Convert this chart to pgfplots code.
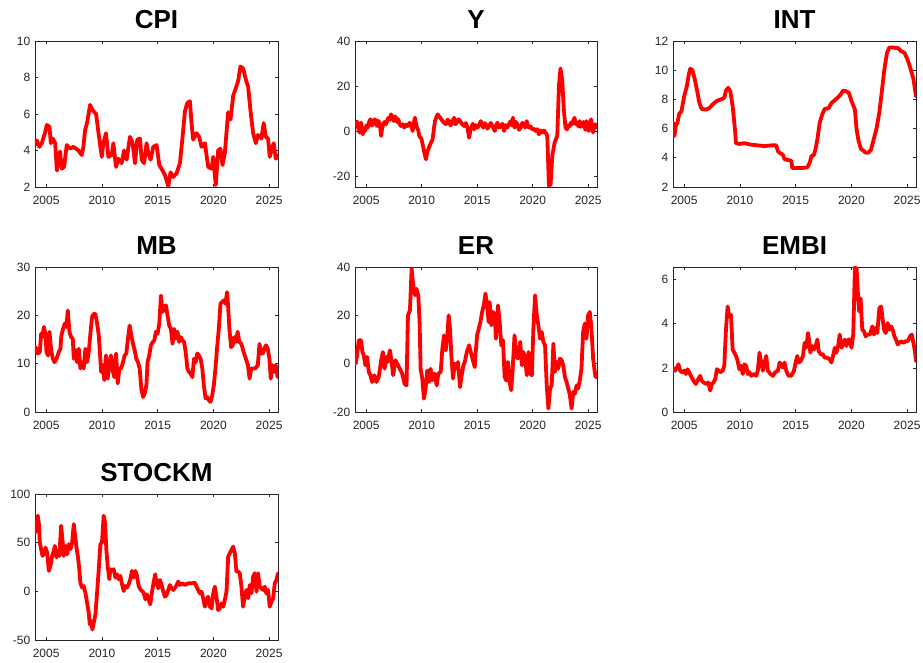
\documentclass[border=0pt]{standalone}
\usepackage{fontspec}
\setmainfont{Liberation Sans}
\usepackage{pgfplots}
\pgfplotsset{compat=1.18}
\definecolor{axgray}{RGB}{38,38,38}

\pgfplotsset{
  panel/.style={
    scale only axis, width=243pt, height=146pt,
    xmin=2004, xmax=2025.8,
    xtick={2005,2010,2015,2020,2025},
    tick align=inside, xtick pos=both, ytick pos=both,
    major tick length=3pt, minor tick num=0,
    axis line style={draw=axgray, line width=0.6pt},
    every tick/.style={draw=axgray, line width=0.6pt},
    tick label style={font=\fontsize{12}{14}\selectfont, text=axgray},
    xticklabel style={anchor=base, yshift=-18pt},
    yticklabel style={anchor=east, inner sep=0pt, xshift=-4.5pt},
    /pgf/number format/1000 sep={},
    /pgf/number format/assume math mode=true,
    scaled ticks=false,
    title style={font=\fontsize{26}{28}\selectfont\bfseries, text=black,
      at={(0.5,1)}, anchor=base, yshift=6pt},
  },
  series/.style={red, line width=3.8pt, line join=round, line cap=round, mark=none},
}

\begin{document}
\begin{tikzpicture}[x=1pt,y=1pt]
\useasboundingbox (0,0) rectangle (923,663);

% ---------------- CPI ----------------
\begin{axis}[panel, at={(35pt,622pt)}, anchor=north west,
  title={CPI}, ymin=2, ymax=10, ytick={2,4,6,8,10}]
\addplot[series] coordinates {
(2004.01,4.3)(2004.16,4.55)(2004.40,4.2)(2004.61,4.4)(2004.91,5.0)(2005.06,5.4)
(2005.30,5.3)(2005.42,4.4)(2005.60,4.65)(2005.81,4.4)(2005.96,2.9)(2006.10,3.5)
(2006.25,3.95)(2006.40,3.0)(2006.61,3.1)(2006.85,4.3)(2007.15,4.1)(2007.45,4.2)
(2007.90,4.0)(2008.19,3.75)(2008.34,4.2)(2008.49,5.1)(2008.70,5.6)(2008.94,6.5)
(2009.18,6.2)(2009.48,6.0)(2009.69,5.0)(2009.99,3.65)(2010.13,4.4)(2010.37,4.95)
(2010.58,3.65)(2010.88,3.75)(2011.03,4.4)(2011.27,3.1)(2011.48,3.55)(2011.78,3.3)
(2011.99,4.0)(2012.22,3.5)(2012.52,4.75)(2012.76,4.4)(2012.97,3.3)(2013.18,4.6)
(2013.42,4.65)(2013.57,3.5)(2013.78,3.3)(2014.01,4.4)(2014.16,3.85)(2014.37,3.5)
(2014.61,4.2)(2014.91,4.3)(2015.15,3.2)(2015.45,2.9)(2015.66,2.65)(2015.96,2.05)
(2016.16,2.8)(2016.40,2.55)(2016.70,2.75)(2017.00,3.3)(2017.24,4.75)(2017.45,6.15)
(2017.66,6.6)(2017.90,6.7)(2018.04,5.5)(2018.19,4.6)(2018.49,4.95)(2018.73,4.75)
(2018.94,4.2)(2019.24,4.4)(2019.54,3.1)(2019.84,3.0)(2019.99,3.65)(2020.22,2.1)
(2020.43,4.0)(2020.64,4.1)(2020.82,3.2)(2021.03,3.85)(2021.33,6.1)(2021.54,5.7)
(2021.78,7.0)(2022.01,7.4)(2022.22,7.8)(2022.43,8.6)(2022.67,8.5)(2022.91,7.9)
(2023.12,7.5)(2023.33,6.2)(2023.57,4.95)(2023.81,4.4)(2024.01,4.85)(2024.31,4.65)
(2024.52,5.5)(2024.70,4.75)(2024.91,4.65)(2025.06,3.65)(2025.30,4.2)(2025.42,4.4)
(2025.60,3.55)(2025.80,3.75)
};
\end{axis}

% ---------------- Y ----------------
\begin{axis}[panel, width=242pt, at={(355pt,622pt)}, anchor=north west,
  title={Y}, ymin=-24.9, ymax=40, ytick={-20,0,20,40}]
\addplot[series] coordinates {
(2004.02,2.5)(2004.10,3)(2004.18,4.2)(2004.25,2.2)(2004.33,0.5)(2004.40,-0.7)
(2004.48,1.5)(2004.55,3.7)(2004.62,0.8)(2004.70,-1.5)(2004.80,1.2)(2004.91,0)
(2005.03,2.5)(2005.15,1.5)(2005.27,4.0)(2005.39,5.2)(2005.50,2.4)(2005.60,3)
(2005.70,4.8)(2005.81,5.2)(2005.90,3.0)(2005.99,2.2)(2006.10,4.5)(2006.20,3.7)
(2006.28,1.0)(2006.35,-2.2)(2006.42,0.5)(2006.50,2.2)(2006.65,4.0)(2006.80,3)
(2006.90,4.5)(2007.01,5.9)(2007.13,5.0)(2007.25,7.4)(2007.37,6.0)(2007.49,4.4)
(2007.59,6.5)(2007.69,5.9)(2007.80,4.0)(2007.90,5.2)(2008.02,3.0)(2008.14,2.2)
(2008.30,3.0)(2008.44,1.5)(2008.60,2.8)(2008.74,2.2)(2008.90,3.6)(2009.04,3)
(2009.12,1.5)(2009.19,0)(2009.30,3.5)(2009.40,5.9)(2009.50,3.0)(2009.58,1.5)
(2009.69,0.5)(2009.79,-2.2)(2010.00,-3.7)(2010.18,-8.1)
(2010.39,-12.6)(2010.54,-8.9)(2010.78,-5.9)(2010.99,-3.7)(2011.20,4.4)(2011.44,7.4)
(2011.68,5.9)(2011.89,4.4)(2012.04,3.5)(2012.19,3)(2012.34,5.0)(2012.49,4.4)
(2012.59,2.5)(2012.69,3)(2012.81,4.6)(2012.93,5.9)(2013.05,3.0)(2013.17,3.7)
(2013.32,5.2)(2013.47,4.4)(2013.65,3.0)(2013.83,2.2)(2013.98,3.5)(2014.13,1.5)
(2014.28,-3)(2014.40,0.5)(2014.49,1.5)(2014.60,3.2)(2014.73,0.7)(2014.88,2.6)
(2015.03,1.5)(2015.18,2.6)(2015.33,4.4)(2015.45,2.5)(2015.57,1.5)(2015.68,3.5)
(2015.78,3)(2015.93,1.0)(2016.08,2.2)(2016.23,3.6)(2016.38,2.2)(2016.49,1.0)
(2016.59,0)(2016.71,2.5)(2016.83,3.7)(2016.98,1.5)(2017.13,2.2)(2017.28,3.2)
(2017.43,0)(2017.58,2.6)(2017.72,1.5)(2017.87,3.0)(2018.02,4.4)(2018.12,2.5)
(2018.23,5.9)(2018.38,1.5)(2018.50,4.0)(2018.62,3)(2018.77,0.5)(2018.92,1.5)
(2019.07,3.6)(2019.22,3)(2019.34,1.5)(2019.46,4.4)(2019.57,2.5)(2019.67,1.5)
(2019.82,2.0)(2019.97,0.7)(2020.12,1.0)(2020.27,0)(2020.42,0.8)(2020.57,-1.5)
(2020.72,0.2)(2020.87,-0.7)(2021.02,0.2)(2021.17,-0.7)(2021.32,-2.2)(2021.47,-24.4)
(2021.62,-23.7)(2021.77,-11.1)(2021.98,-5.2)
(2022.22,-2.2)(2022.37,20)(2022.51,27.8)(2022.66,23)(2022.81,9.6)(2022.96,1.5)
(2023.11,0.7)(2023.23,2.5)(2023.35,2.2)(2023.46,3.8)(2023.56,3)(2023.67,4.5)
(2023.77,5.9)(2023.89,3.0)(2024.01,3.7)(2024.13,2.0)(2024.25,4.4)(2024.35,1.8)
(2024.46,3)(2024.57,4.0)(2024.67,2.2)(2024.76,0.5)(2024.85,4.4)(2024.96,1.5)
(2025.06,0)(2025.16,3.0)(2025.27,5.2)(2025.36,2.0)(2025.45,-0.7)(2025.56,2.0)
(2025.66,3)(2025.80,1.5)
};
\end{axis}

% ---------------- INT ----------------
\begin{axis}[panel, at={(673pt,622pt)}, anchor=north west,
  title={INT}, ymin=2, ymax=12, ytick={2,4,6,8,10,12}]
\addplot[series] coordinates {
(2004.04,6.4)(2004.13,5.5)(2004.25,6.2)(2004.40,6.4)(2004.55,7.0)(2004.76,7.2)
(2005.00,8.2)(2005.24,8.9)(2005.39,9.6)(2005.54,10.1)(2005.75,10.0)(2005.96,9.35)
(2006.20,8.45)(2006.35,7.8)(2006.56,7.35)(2006.95,7.3)(2007.25,7.4)(2007.55,7.65)
(2007.94,7.9)(2008.30,8.0)(2008.60,8.1)(2008.75,8.6)(2008.96,8.8)(2009.14,8.55)
(2009.35,7.55)(2009.56,5.95)(2009.65,5.0)(2009.95,4.95)(2010.41,5.0)(2011.01,4.9)
(2011.61,4.85)(2012.21,4.8)(2012.81,4.85)(2013.26,4.85)(2013.41,4.45)(2013.56,4.35)
(2013.86,4.2)(2014.01,3.9)(2014.31,3.85)(2014.61,3.8)(2014.70,3.3)(2015.06,3.3)
(2015.66,3.3)(2016.05,3.35)(2016.26,3.65)(2016.41,4.1)(2016.65,4.2)(2016.77,4.55)
(2016.95,5.25)(2017.16,6.4)(2017.40,7.0)(2017.61,7.35)(2017.97,7.4)(2018.21,7.75)
(2018.45,7.9)(2018.75,8.1)(2019.05,8.35)(2019.26,8.6)(2019.56,8.55)(2019.77,8.45)
(2020.01,7.9)(2020.32,7.3)(2020.47,5.95)(2020.62,5.25)(2020.86,4.6)(2021.07,4.5)
(2021.28,4.35)(2021.52,4.35)(2021.76,4.55)(2021.97,5.15)(2022.27,6.05)(2022.51,7.1)
(2022.72,8.45)(2022.96,10.05)(2023.20,11.2)(2023.41,11.55)(2023.77,11.55)(2024.22,11.5)
(2024.46,11.3)(2024.76,11.2)(2025.03,10.75)(2025.27,10.2)(2025.57,9.4)(2025.80,8.2)
};
\end{axis}

% ---------------- MB ----------------
\begin{axis}[panel, height=145pt, at={(35pt,396pt)}, anchor=north west,
  title={MB}, ymin=0, ymax=30, ytick={0,10,20,30}]
\addplot[series] coordinates {
(2004.04,13.5)(2004.10,13.1)(2004.25,12.1)(2004.43,12.4)(2004.55,16.2)(2004.67,15.5)
(2004.79,17.6)(2004.94,16.2)(2005.03,12.4)(2005.18,11.7)(2005.30,16.6)(2005.45,12.8)
(2005.60,11.0)(2005.75,10.3)(2005.93,11.0)(2006.13,12.4)(2006.28,13.1)(2006.37,15.9)
(2006.52,17.2)(2006.67,18.3)(2006.82,17.6)(2006.94,21.0)(2007.09,16.6)(2007.24,15.5)
(2007.39,15.2)(2007.48,11.0)(2007.63,12.8)(2007.78,10.3)(2007.93,13.1)(2008.07,9.0)
(2008.22,10.3)(2008.37,9.0)(2008.52,13.1)(2008.67,10.3)(2008.82,12.4)(2008.97,16.2)
(2009.12,19.7)(2009.27,20.3)(2009.42,20.3)(2009.57,18.3)(2009.72,15.9)(2009.81,12.8)
(2009.93,8.3)(2010.07,9.7)(2010.22,6.6)(2010.37,11.7)(2010.52,6.9)(2010.67,9.7)
(2010.82,11.7)(2010.97,8.6)(2011.12,7.2)(2011.27,12.1)(2011.42,5.9)(2011.57,9.0)
(2011.72,9.0)(2011.90,10.3)(2012.04,11.7)(2012.19,12.1)(2012.34,15.2)(2012.49,17.9)
(2012.64,15.9)(2012.79,14.1)(2012.94,12.8)(2013.09,11.0)(2013.24,10.3)(2013.39,9.0)
(2013.54,4.8)(2013.69,3.1)(2013.84,3.8)(2013.99,5.5)(2014.10,10.3)(2014.25,11.7)
(2014.40,13.8)(2014.58,14.5)(2014.70,14.8)(2014.85,16.6)(2015.00,16.2)(2015.15,18.3)
(2015.30,24.1)(2015.45,20.7)(2015.59,21.4)(2015.74,22.1)(2015.89,20.0)(2016.04,17.9)
(2016.19,17.2)(2016.34,14.1)(2016.48,17.2)(2016.63,15.2)(2016.78,16.6)(2016.93,14.5)
(2017.08,15.5)(2017.23,14.8)(2017.37,14.5)(2017.52,12.4)(2017.67,9.0)(2017.82,8.3)
(2017.97,7.9)(2018.12,7.2)(2018.26,11.0)(2018.41,10.3)(2018.56,12.1)(2018.71,11.7)
(2018.86,11.0)(2019.01,9.0)(2019.15,5.5)(2019.30,2.8)(2019.45,3.1)(2019.60,2.4)
(2019.75,2.1)(2019.90,3.4)(2020.04,5.5)(2020.19,9.0)(2020.34,13.4)(2020.49,17.2)
(2020.64,22.4)(2020.79,22.8)(2020.93,23.1)(2021.08,22.4)(2021.23,24.8)(2021.32,22.1)
(2021.44,17.2)(2021.59,13.4)(2021.74,13.8)(2021.88,15.5)(2022.03,14.5)(2022.18,16.6)
(2022.33,14.5)(2022.51,14.1)(2022.72,12.4)(2022.92,11.0)(2023.10,9.7)(2023.25,6.9)
(2023.40,9.0)(2023.55,9.0)(2023.75,9.0)(2023.99,9.7)(2024.14,14.1)(2024.29,12.1)
(2024.44,12.1)(2024.58,13.1)(2024.73,13.8)(2024.88,13.1)(2025.03,11.0)(2025.15,6.9)
(2025.30,9.7)(2025.45,8.3)(2025.59,9.7)(2025.77,7.2)
};
\end{axis}

% ---------------- ER ----------------
\begin{axis}[panel, width=242pt, height=145pt, at={(355pt,396pt)}, anchor=north west,
  title={ER}, ymin=-20, ymax=40, ytick={-20,0,20,40}]
\addplot[series] coordinates {
(2004.04,0)(2004.19,3.4)(2004.34,9.7)(2004.55,9.7)(2004.67,4.8)(2004.79,3.4)
(2004.94,-0.7)(2005.09,2.8)(2005.24,-3.4)(2005.39,-4.8)(2005.54,-7.6)(2005.75,-4.8)
(2005.93,-7.6)(2006.14,-5.5)(2006.36,1.4)(2006.51,4.8)(2006.66,-2.1)(2006.84,2.8)
(2006.96,0.7)(2007.14,5.5)(2007.26,2.1)(2007.44,-4.8)(2007.65,1.4)(2007.80,0)
(2008.04,-2.1)(2008.25,-4.1)(2008.46,-8.3)(2008.64,-9.0)(2008.77,20)(2008.95,22.1)
(2009.10,39.3)(2009.25,32.4)(2009.40,28.3)(2009.52,31.0)(2009.70,28.3)(2009.82,17.2)
(2009.91,-2.1)(2010.06,-6.2)(2010.21,-14.5)(2010.36,-10.3)(2010.51,-2.8)(2010.66,-7.6)
(2010.81,-2.1)(2010.96,-6.9)(2011.17,-4.1)(2011.36,-9.0)(2011.51,-4.1)(2011.72,-3.4)
(2011.87,6.2)(2012.02,11.7)(2012.17,5.5)(2012.32,11.7)(2012.44,20.0)(2012.56,14.5)
(2012.68,3.4)(2012.83,-6.2)(2012.98,0)(2013.16,-2.1)(2013.28,0.7)(2013.46,-9.7)
(2013.58,-5.5)(2013.77,-0.7)(2013.89,0.7)(2014.07,4.8)(2014.28,7.6)(2014.43,4.8)
(2014.58,2.1)(2014.79,-1.4)(2014.85,3.4)(2015.00,11.7)(2015.15,14.5)(2015.30,17.2)
(2015.45,21.4)(2015.60,24.1)(2015.75,29.0)(2015.90,24.1)(2016.04,17.2)(2016.13,25.5)
(2016.28,15.9)(2016.43,21.4)(2016.58,20.0)(2016.70,10.3)(2016.88,24.1)(2017.03,17.2)
(2017.18,7.6)(2017.33,9.7)(2017.48,-5.5)(2017.63,-7.0)(2017.78,0.7)(2017.93,-7.6)
(2018.07,-11.0)(2018.19,-3.4)(2018.37,11.7)(2018.52,3.4)(2018.67,2.1)(2018.88,9.0)
(2019.03,-0.7)(2019.18,4.8)(2019.33,2.1)(2019.48,-4.8)(2019.63,4.8)(2019.78,-4.1)
(2019.93,-4.8)(2020.07,14.5)(2020.22,28.3)(2020.37,20.0)(2020.52,15.9)(2020.67,10.3)
(2020.82,13.1)(2020.97,9.0)(2021.12,7.6)(2021.27,-9.0)(2021.42,-18.6)(2021.57,-10.3)
(2021.72,-9.0)(2021.87,8.3)(2022.01,-3.4)(2022.16,0.7)(2022.31,-2.1)(2022.46,2.1)
(2022.61,1.4)(2022.76,-0.7)(2022.91,-5.5)(2023.06,-7.6)(2023.21,-10.3)(2023.36,-13.1)
(2023.51,-18.6)(2023.66,-11.7)(2023.81,-12.4)(2023.96,-9.0)(2024.10,-10.3)(2024.25,-6.9)
(2024.40,-2.1)(2024.55,13.1)(2024.70,16.6)(2024.85,10.3)(2025.00,20.0)(2025.15,21.4)
(2025.30,14.5)(2025.45,2.1)(2025.66,-5.5)(2025.80,-5.5)
};
\end{axis}

% ---------------- EMBI ----------------
\begin{axis}[panel, height=145pt, at={(673pt,396pt)}, anchor=north west,
  title={EMBI}, ymin=0, ymax=6.57, ytick={0,2,4,6}]
\addplot[series] coordinates {
(2004.04,2.0)(2004.19,1.87)(2004.34,2.0)(2004.49,2.16)(2004.64,1.87)(2004.79,1.8)
(2005.00,1.87)(2005.15,1.72)(2005.30,1.94)(2005.45,1.8)(2005.60,1.64)(2005.84,1.42)
(2006.05,1.27)(2006.26,1.49)(2006.44,1.64)(2006.56,1.42)(2006.74,1.34)(2006.95,1.27)
(2007.16,1.34)(2007.34,0.97)(2007.49,1.27)(2007.64,1.34)(2007.79,1.49)(2007.94,1.94)
(2008.09,1.87)(2008.24,1.8)(2008.45,1.87)(2008.60,2.09)(2008.75,3.73)(2008.90,4.78)
(2009.05,4.33)(2009.20,4.4)(2009.35,2.84)(2009.50,2.69)(2009.65,2.54)(2009.80,2.31)
(2009.95,1.94)(2010.11,2.09)(2010.26,1.72)(2010.41,2.16)(2010.56,2.09)(2010.71,1.72)
(2010.86,1.8)(2011.01,1.64)(2011.25,1.72)(2011.46,1.64)(2011.61,1.87)(2011.76,2.69)
(2011.91,2.24)(2012.06,1.87)(2012.21,2.24)(2012.36,2.54)(2012.51,1.87)(2012.75,1.72)
(2012.96,1.64)(2013.17,1.8)(2013.41,1.87)(2013.56,2.24)(2013.71,2.16)(2013.86,2.01)
(2014.01,2.24)(2014.16,1.87)(2014.37,1.64)(2014.61,1.64)(2014.85,1.87)(2015.00,2.24)
(2015.15,2.54)(2015.27,2.24)(2015.45,2.31)(2015.66,2.54)(2015.81,3.13)(2015.96,2.91)
(2016.11,3.58)(2016.20,3.28)(2016.32,2.69)(2016.50,2.99)(2016.65,2.84)(2016.80,2.99)
(2016.95,3.28)(2017.07,2.76)(2017.25,2.61)(2017.46,2.61)(2017.61,2.46)(2017.85,2.46)
(2018.06,2.39)(2018.21,2.24)(2018.36,2.54)(2018.51,2.91)(2018.66,2.69)(2018.81,2.99)
(2018.96,3.51)(2019.11,2.91)(2019.26,3.06)(2019.41,3.28)(2019.56,2.99)(2019.71,3.28)
(2019.86,3.28)(2020.01,2.91)(2020.17,3.51)(2020.32,6.55)(2020.47,6.49)(2020.62,5.07)
(2020.71,4.55)(2020.83,5.15)(2020.98,3.73)(2021.13,3.66)(2021.28,3.43)(2021.46,3.51)
(2021.67,3.51)(2021.88,3.88)(2022.03,3.51)(2022.18,3.81)(2022.33,3.58)(2022.51,4.7)
(2022.66,4.78)(2022.78,4.33)(2022.93,3.73)(2023.08,3.58)(2023.26,4.03)(2023.41,3.73)
(2023.56,3.88)(2023.71,3.73)(2023.86,3.43)(2024.01,3.28)(2024.16,3.06)(2024.31,3.13)
(2024.46,3.21)(2024.67,3.13)(2024.88,3.21)(2025.06,3.21)(2025.27,3.43)(2025.42,3.51)
(2025.57,3.13)(2025.72,2.69)(2025.80,2.3)
};
\end{axis}

% ---------------- STOCKM ----------------
\begin{axis}[panel, at={(35pt,169pt)}, anchor=north west,
  title={STOCKM}, ymin=-50, ymax=100, ytick={-50,0,50,100}]
\addplot[series] coordinates {
(2004.04,60.5)(2004.13,67.4)(2004.25,77.7)(2004.34,70.8)(2004.43,50.2)(2004.55,43.3)
(2004.67,36.4)(2004.79,38.1)(2004.94,45.0)(2005.09,39.9)(2005.24,21.0)(2005.39,26.1)
(2005.54,36.4)(2005.69,41.6)(2005.78,46.7)(2005.93,34.7)(2006.04,41.6)(2006.19,36.4)
(2006.34,67.4)(2006.46,53.6)(2006.58,36.4)(2006.73,46.7)(2006.88,38.1)(2007.03,48.5)
(2007.18,43.3)(2007.33,50.2)(2007.48,69.1)(2007.60,57.0)(2007.72,45.0)(2007.84,36.4)
(2007.96,24.4)(2008.07,8.9)(2008.22,3.8)(2008.37,5.5)(2008.52,-1.4)(2008.67,-11.7)
(2008.82,-22.0)(2008.91,-34.0)(2009.03,-30.6)(2009.15,-39.2)(2009.27,-32.3)(2009.42,-23.7)
(2009.57,-1.4)(2009.72,22.7)(2009.87,48.5)(2010.01,50.2)(2010.16,77.7)(2010.28,70.8)
(2010.40,43.3)(2010.52,26.1)(2010.67,12.4)(2010.76,22.7)(2010.91,21.0)(2011.06,22.7)
(2011.21,14.1)(2011.36,17.5)(2011.51,12.4)(2011.66,15.8)(2011.81,7.2)(2011.96,0.3)
(2012.10,5.5)(2012.25,3.8)(2012.40,7.2)(2012.55,12.4)(2012.70,21.0)(2012.85,14.1)
(2013.00,21.0)(2013.15,15.8)(2013.30,5.5)(2013.45,2.1)(2013.60,0.3)(2013.75,-1.4)
(2013.90,-8.2)(2014.04,-3.1)(2014.19,-8.2)(2014.34,-13.4)(2014.49,-1.4)(2014.64,8.9)
(2014.79,17.5)(2014.91,8.2)(2015.06,3.1)(2015.21,11.7)(2015.36,6.5)(2015.51,-0.3)
(2015.66,-5.5)(2015.81,-3.8)(2015.96,1.4)(2016.10,6.5)(2016.25,3.1)(2016.40,1.4)
(2016.64,4.8)(2016.85,10.0)(2017.00,6.5)(2017.24,8.2)(2017.45,6.5)(2017.75,8.2)
(2018.04,8.2)(2018.34,8.9)(2018.49,4.8)(2018.64,1.4)(2018.79,-2.1)(2018.94,-0.3)
(2019.09,-7.2)(2019.24,-15.8)(2019.39,-8.9)(2019.54,-5.5)(2019.69,-15.8)(2019.84,-17.5)
(2019.99,-2.1)(2020.13,4.8)(2020.28,-5.5)(2020.43,-19.2)(2020.58,-17.5)(2020.73,-12.4)
(2020.88,-15.8)(2021.03,-8.9)(2021.18,-0.3)(2021.33,35.7)(2021.48,39.2)(2021.63,42.6)
(2021.78,46.0)(2021.93,39.2)(2022.07,20.3)(2022.22,20.3)(2022.37,18.6)(2022.52,4.8)
(2022.67,-15.8)(2022.82,-5.5)(2022.97,1.4)(2023.12,-7.2)(2023.27,6.5)(2023.42,-2.1)
(2023.57,15.1)(2023.72,18.6)(2023.87,-0.3)(2024.01,18.6)(2024.16,4.8)(2024.31,3.1)
(2024.46,1.4)(2024.61,4.8)(2024.76,-2.1)(2024.91,1.4)(2025.06,-15.8)(2025.21,-10.7)
(2025.36,-7.2)(2025.51,8.2)(2025.66,11.7)(2025.80,18.6)
};
\end{axis}
\end{tikzpicture}
\end{document}
